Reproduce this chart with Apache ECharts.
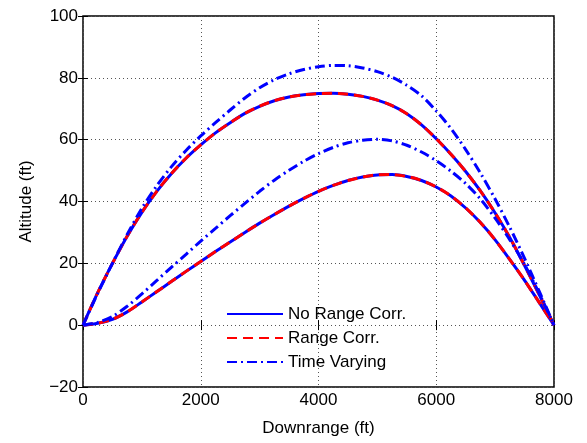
<!DOCTYPE html>
<html>
<head>
<meta charset="utf-8">
<script src="https://cdn.jsdelivr.net/npm/echarts@6/dist/echarts.min.js"></script>
<style>
  html, body { margin: 0; padding: 0; background: #fff; }
  #chart { width: 587px; height: 443px; }
</style>
</head>
<body>
<div id="chart"></div>
<script>
// downrange samples (ft), every 250 ft, shared by every curve
var downrange = [0, 250, 500, 750, 1000, 1250, 1500, 1750, 2000, 2250, 2500, 2750, 3000, 3250, 3500, 3750,
    4000, 4250, 4500, 4750, 5000, 5250, 5500, 5750, 6000, 6250, 6500, 6750, 7000, 7250, 7500, 7750, 8000];

// altitude (ft)
var noCorrHigh = [0, 10.5, 20, 28.8, 36.5, 43.2, 49, 54, 58.3, 62.2, 65.5, 68.5, 70.8, 72.6, 73.8, 74.5,
    74.9, 75, 74.7, 74, 72.8, 71, 68.4, 64.8, 60.3, 55.3, 49.7, 43.4, 36.3, 28.3, 19.3, 9.8, 0];
var noCorrLow = [0, 0.6, 1.9, 4.3, 7.5, 10.8, 14.1, 17.4, 20.6, 23.8, 26.9, 30, 33, 35.8, 38.5, 41,
    43.3, 45.2, 46.8, 47.9, 48.6, 48.7, 48.1, 46.8, 44.7, 41.8, 37.9, 33.2, 27.6, 21.2, 14.5, 7.3, 0];
var corrHigh = [0, 10.5, 20, 28.8, 36.5, 43.2, 49, 54, 58.3, 62.2, 65.5, 68.5, 70.8, 72.6, 73.8, 74.5,
    74.9, 75, 74.7, 74, 72.8, 71, 68.4, 64.8, 60.3, 55.3, 49.7, 43.4, 36.3, 28.3, 19.3, 9.8, 0];
var corrLow = [0, 0.6, 1.9, 4.3, 7.5, 10.8, 14.1, 17.4, 20.6, 23.8, 26.9, 30, 33, 35.8, 38.5, 41,
    43.3, 45.2, 46.8, 47.9, 48.6, 48.7, 48.1, 46.8, 44.7, 41.8, 37.9, 33.2, 27.6, 21.2, 14.5, 7.3, 0];
var tvHigh = [0, 10.3, 20, 29.3, 37.8, 45, 51.2, 56.5, 61.2, 65.5, 69.6, 73.5, 76.8, 79.4, 81.3, 82.7,
    83.6, 84, 83.9, 83.2, 82, 80.2, 77.6, 74.2, 69.3, 63.6, 56.8, 49.2, 40.8, 31.6, 21.6, 10.9, 0];
var tvLow = [0, 0.9, 2.8, 6.1, 10.1, 14.4, 18.7, 22.9, 27.2, 31.3, 35.4, 39.4, 43.3, 46.9, 50.1, 53,
    55.5, 57.5, 59, 59.8, 60.1, 59.6, 58.2, 56, 53.2, 49.8, 45.8, 40.8, 34.6, 27.6, 19.6, 10.2, 0];

var legendNames = ["No Range Corr.", "Range Corr.", "Time Varying"];
var xTicks = { min: 0, max: 8000, interval: 2000 };
var yTicks = { min: -20, max: 100, interval: 20 };

function pairs(ys) {
    return downrange.map(function(x, i) { return [x, ys[i]]; });
}

var font = "Liberation Sans, Arial, Helvetica, sans-serif";

function curve(name, ys, color, dash) {
    return {
        name: name,
        type: "line",
        data: pairs(ys),
        smooth: 0.3,
        symbol: "none",
        lineStyle: { color: color, width: 3, type: dash },
        itemStyle: { color: color }
    };
}

var chart = echarts.init(document.getElementById("chart"), null, { renderer: "canvas" });

var option = {
    animation: false,
    backgroundColor: "#fff",
    grid: {
        left: 83, right: 33, top: 16, bottom: 56,
        show: true, borderColor: "#000", borderWidth: 1.5,
        backgroundColor: "transparent"
    },
    legend: {
        data: legendNames,
        orient: "vertical",
        left: 226, top: 304, padding: 0,
        itemWidth: 56, itemHeight: 14, itemGap: 4,
        itemStyle: { opacity: 0, borderWidth: 0 },
        textStyle: { fontFamily: font, fontSize: 17, color: "#000", lineHeight: 20 }
    },
    xAxis: [{
        type: "value",
        min: xTicks.min, max: xTicks.max, interval: xTicks.interval,
        name: "Downrange (ft)",
        nameLocation: "middle", nameGap: 33,
        nameTextStyle: { fontFamily: font, fontSize: 17, color: "#000" },
        axisLine: { show: false },
        axisTick: { show: true, inside: true, length: 5, lineStyle: { color: "#000" } },
        axisLabel: {
            fontFamily: font, fontSize: 17, color: "#000", margin: 5,
            formatter: function(v) { return String(v); }
        },
        splitLine: { show: true, lineStyle: { color: "#555", type: [1, 3], width: 1 } }
    }, {
        type: "value", position: "top",
        min: xTicks.min, max: xTicks.max, interval: xTicks.interval,
        axisLine: { show: false },
        axisTick: { show: true, inside: true, length: 5, lineStyle: { color: "#000" } },
        axisLabel: { show: false },
        splitLine: { show: false }
    }],
    yAxis: [{
        type: "value",
        min: yTicks.min, max: yTicks.max, interval: yTicks.interval,
        name: "Altitude (ft)",
        nameLocation: "middle", nameGap: 48,
        nameTextStyle: { fontFamily: font, fontSize: 17, color: "#000" },
        axisLine: { show: false },
        axisTick: { show: true, inside: true, length: 5, lineStyle: { color: "#000" } },
        axisLabel: {
            fontFamily: font, fontSize: 17, color: "#000", margin: 5,
            formatter: function(v) { return String(v).replace("-", "\u2212"); }
        },
        splitLine: { show: true, lineStyle: { color: "#555", type: [1, 3], width: 1 } }
    }, {
        type: "value", position: "right",
        min: yTicks.min, max: yTicks.max, interval: yTicks.interval,
        axisLine: { show: false },
        axisTick: { show: true, inside: true, length: 5, lineStyle: { color: "#000" } },
        axisLabel: { show: false },
        splitLine: { show: false }
    }],
    series: [
        curve(legendNames[0], noCorrHigh, "#0000ff", "solid"),
        curve(legendNames[0], noCorrLow, "#0000ff", "solid"),
        curve(legendNames[1], corrHigh, "#ff0000", [10, 6]),
        curve(legendNames[1], corrLow, "#ff0000", [10, 6]),
        curve(legendNames[2], tvHigh, "#0000ff", [10, 4, 2, 4]),
        curve(legendNames[2], tvLow, "#0000ff", [10, 4, 2, 4])
    ]
};

chart.setOption(option);
</script>
</body>
</html>
